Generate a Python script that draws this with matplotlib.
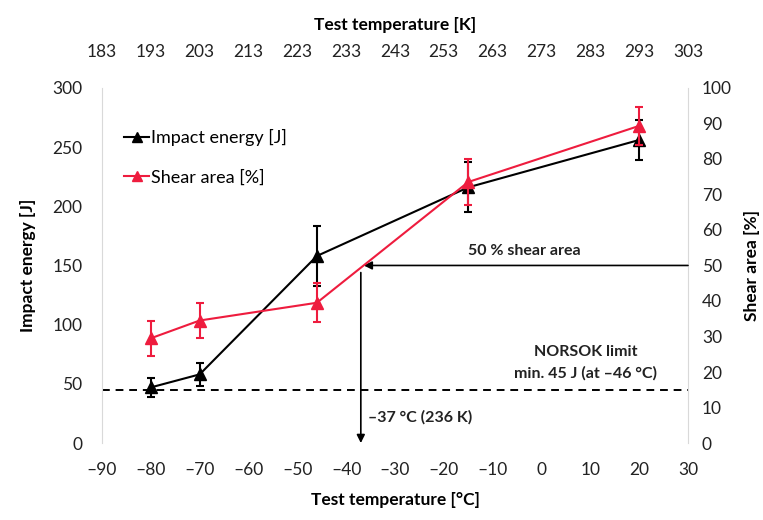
import matplotlib
matplotlib.use("Agg")
import matplotlib.pyplot as plt
from matplotlib.lines import Line2D

plt.rcParams['font.family'] = ['Lato', 'DejaVu Sans']

# Test temperatures [°C]
temps_c = [-80, -70, -46, -15, 20]
# Charpy impact energy [J] with scatter
impact_energy = [47, 58, 158, 216, 256]
impact_err = [8, 10, 25, 21, 17]
# Shear area [%] with scatter
shear_area = [29.5, 34.5, 39.5, 73.5, 89.3]
shear_err = [5, 5, 5.5, 6.5, 5.3]

x_ticks = list(range(-90, 31, 10))
k_ticks = list(range(183, 304, 10))
energy_ticks = list(range(0, 301, 50))
shear_ticks = list(range(0, 101, 10))

norsok_limit = 45
transition_temp = -37
shear_50 = 50

red = '#ee1c3e'
spine_col = '#d9d9d9'
txt_col = '#222222'

fig = plt.figure(figsize=(7.63, 5.20), dpi=100)
ax = fig.add_axes([0.1337, 0.148, 0.768, 0.683])
ax2 = ax.twinx()

ax.set_xlim(-90, 30)
ax.set_ylim(0, 300)
ax2.set_ylim(0, 100)

ax.set_xticks(x_ticks)
ax.set_xticklabels([str(v).replace('-', '\u2013') for v in x_ticks])
ax.set_yticks(energy_ticks)
ax2.set_yticks(shear_ticks)

for a in (ax, ax2):
    a.tick_params(length=0, labelsize=12.5, colors=txt_col)
    for s in a.spines.values():
        s.set_visible(False)
ax.tick_params(axis='x', pad=14)
ax.tick_params(axis='y', pad=14)
ax2.tick_params(axis='y', pad=10)
ax.spines['left'].set_visible(True)
ax.spines['left'].set_color(spine_col)
ax2.spines['right'].set_visible(True)
ax2.spines['right'].set_color(spine_col)

# Kelvin scale on top
sec = ax.secondary_xaxis('top', functions=(lambda c: c + 273, lambda k: k - 273))
sec.set_xticks(k_ticks)
sec.tick_params(length=0, labelsize=12.5, colors=txt_col, pad=20)
for s in sec.spines.values():
    s.set_visible(False)
sec.set_xlabel('Test temperature [K]', fontsize=12.5, fontweight='bold', labelpad=10)

ax.set_xlabel('Test temperature [°C]', fontsize=12.5, fontweight='bold', labelpad=10)
ax.set_ylabel('Impact energy [J]', fontsize=12.5, fontweight='bold', labelpad=12)
ax2.set_ylabel('Shear area [%]', fontsize=12.5, fontweight='bold', labelpad=9)

# NORSOK minimum energy line
ax.axhline(norsok_limit, color='black', lw=1.4, ls=(0, (4, 3)), zorder=1)

# Data series
ax.errorbar(temps_c, impact_energy, yerr=impact_err, color='black', lw=1.5,
            marker='^', ms=8, capsize=3, elinewidth=1.5, capthick=1.5, zorder=4)
ax2.errorbar(temps_c, shear_area, yerr=shear_err, color=red, lw=1.5,
             marker='^', ms=8, capsize=3, elinewidth=1.5, capthick=1.5, zorder=5)

# 50 % shear area construction
ax2.annotate('', xy=(transition_temp + 0.6, shear_50), xytext=(30, shear_50),
             arrowprops=dict(arrowstyle='-|>', color='black', lw=1.2,
                             mutation_scale=12, shrinkA=0, shrinkB=0))
ax2.annotate('', xy=(transition_temp, 0), xytext=(transition_temp, shear_50 - 2),
             arrowprops=dict(arrowstyle='-|>', color='black', lw=1.2,
                             mutation_scale=12, shrinkA=0, shrinkB=0))
ax2.text(-3.5, 54, '50 % shear area', ha='center', va='center',
         fontsize=11.5, fontweight='bold', color=txt_col)
ax.text(transition_temp + 1.5, 22, '\u201337 °C (236 K)', ha='left', va='center',
        fontsize=11.5, fontweight='bold', color=txt_col)
ax.text(9, 77, 'NORSOK limit', ha='center', va='center',
        fontsize=11.5, fontweight='bold', color=txt_col)
ax.text(9, 59, 'min. 45 J (at \u201346 °C)', ha='center', va='center',
        fontsize=11.5, fontweight='bold', color=txt_col)

handles = [Line2D([], [], color='black', lw=1.5, marker='^', ms=7),
           Line2D([], [], color=red, lw=1.5, marker='^', ms=7)]
leg = ax.legend(handles, ['Impact energy [J]', 'Shear area [%]'],
                loc='upper left', bbox_to_anchor=(0.01, 0.93), frameon=False,
                fontsize=13, handlelength=1.4, handletextpad=0.1,
                labelspacing=1.3)
leg.set_zorder(10)

fig.savefig('out.png', dpi=100, facecolor='white')
